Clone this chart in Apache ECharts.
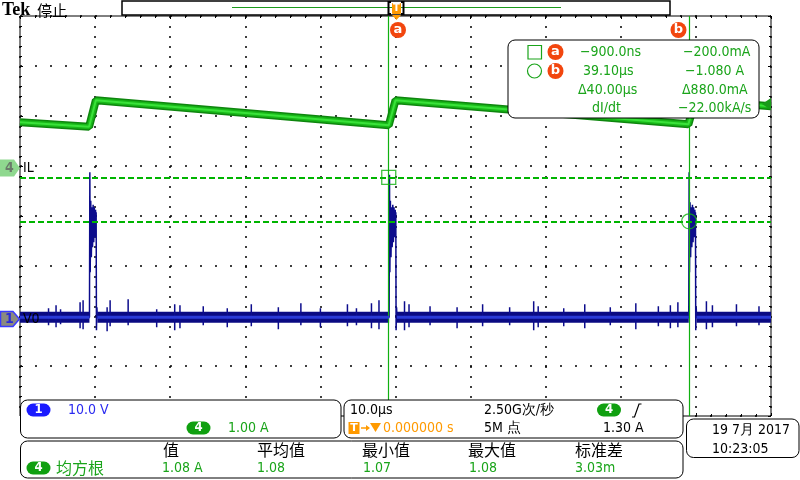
<!DOCTYPE html>
<html><head><meta charset="utf-8">
<script src="https://cdn.jsdelivr.net/npm/echarts@6/dist/echarts.min.js"></script>
<style>html,body{margin:0;padding:0;background:#fff}#c{width:800px;height:480px}</style>
</head><body><div id="c"></div>
<script>
// ---- axes (10 µs/div horizontally, 8 vertical divisions) ----
const timeMin = -50, timeMax = 50, timeStep = 10;            // µs
const divMin = -4, divMax = 4;                                // graticule divisions
const ilMin = -4.974, ilMax = 3.026;                          // A  (1.00 A/div)
const v0Min = -19.74, v0Max = 60.26;                          // V  (10.0 V/div)

// ---- channel 4 : IL (A) ----
const ilTime = [-50, -40.8, -39.9, -0.9, 0.0, 39.0, 39.9, 50];
const ilAmps = [0.90, 0.81, 1.34, 0.84, 1.34, 0.86, 1.34, 1.22];

// ---- channel 1 : V0 (V) ----
const v0BaseSegments = [[-50, -40.75], [-39.7, -0.85], [0.2, 39.05], [40.1, 50]];
const v0Spike1 = [[-40.75,0],[-40.7,29],[-40.65,9],[-40.58,23.3],[-40.5,12],[-40.42,22],[-40.34,14],[-40.26,22.5],[-40.18,15],[-40.1,22],[-40.02,16],[-39.94,21.5],[-39.9,18],[-39.86,21],[-39.82,-2.6],[-39.76,2],[-39.7,0]];
const v0Spike2 = [[-0.85,0],[-0.8,28.5],[-0.75,9],[-0.68,23.3],[-0.6,12],[-0.52,22],[-0.44,14],[-0.36,22.5],[-0.28,15],[-0.2,22],[-0.12,16],[-0.04,21.5],[0.0,18],[0.04,21],[0.08,-2.6],[0.14,2],[0.2,0]];
const v0Spike3 = [[39.05,0],[39.1,29],[39.15,9],[39.22,23],[39.3,12],[39.38,22],[39.46,14],[39.54,22.5],[39.62,15],[39.7,22],[39.78,16],[39.86,21.5],[39.9,18],[39.94,21],[39.98,-2.6],[40.04,2],[40.1,0]];
// ringing bursts on the baseline  [t, Vmax, Vmin]
const v0Bursts = [[-46.2,1.8,-1.6],[-45.2,2.4,-2.0],[-44.6,1.6,-1.4],[-42.0,3.0,-2.2],[-41.6,3.4,-2.4],[-38.4,2.0,-2.8],[-38.0,3.4,-1.8],[-35.6,3.6,-1.6],[-31.8,1.6,-2.0],[-29.4,2.6,-2.6],[-28.7,2.4,-2.2],[-25.6,2.2,-1.6],[-22.4,1.8,-2.0],[-19.2,2.6,-1.8],[-15.6,2.0,-2.4],[-12.6,2.8,-1.6],[-10.0,1.8,-2.0],[-6.4,2.6,-1.8],[-5.2,1.8,-1.6],[-3.2,2.8,-2.2],[-2.2,3.4,-2.4],[1.2,3.2,-2.6],[1.8,2.6,-2.0],[4.6,2.2,-1.6],[8.2,2.0,-2.2],[11.6,2.6,-1.8],[15.2,2.0,-1.6],[18.4,3.2,-2.6],[19.0,2.2,-2.0],[22.4,1.8,-1.8],[25.2,2.6,-2.2],[28.6,2.0,-1.6],[32.0,2.8,-2.4],[35.0,2.2,-1.8],[36.6,2.4,-2.2],[37.6,3.0,-2.0],[41.4,3.2,-2.4],[42.2,2.4,-2.0],[45.4,2.6,-1.8],[48.4,2.2,-1.6]];

// ---- cursors ----
const cursorTimes = [-0.9, 39.1];     // µs
const cursorLevels = [-0.2, -1.08];   // A

// ---- build series data ----
const ilData = ilTime.map((t, i) => [t, ilAmps[i]]);
const bandData = [];
v0BaseSegments.forEach(s => { bandData.push([s[0], 0], [s[1], 0], [s[1], '-']); });
const spikes = [v0Spike1, v0Spike2, v0Spike3];
const thinData = [[timeMin, 0]];
const events = [];
v0Bursts.forEach(b => events.push({t: b[0], pts: [[b[0],0],[b[0],b[1]],[b[0],b[2]],[b[0],0]]}));
spikes.forEach(s => events.push({t: s[0][0], pts: s}));
events.sort((a, b) => a.t - b.t).forEach(e => e.pts.forEach(p => thinData.push(p)));
thinData.push([timeMax, 0]);

const GREEN_T = '#1aa41a', BLUE_T = '#2a2af0', ORANGE = '#ff9a00', RED_O = '#f2460e';
const FONT = '"DejaVu Sans Condensed","Liberation Sans Narrow","DejaVu Sans",sans-serif';
const CJK = '"Noto Sans CJK SC",sans-serif';

function txt(x, y, text, color, size, family, extra) {
  return {type: 'text', x: x, y: y, z: 110,
    style: {text: text, fill: color, font: (extra && extra.weight ? extra.weight + ' ' : '') + size + 'px ' + family,
      textAlign: (extra && extra.align) || 'left', textVerticalAlign: 'middle'}};
}
function box(x, y, w, h, r, z) {
  return {type: 'rect', z: z || 100, shape: {x: x, y: y, width: w, height: h, r: r},
    style: {fill: '#fff', stroke: '#000', lineWidth: 1}};
}
function pill(cx, cy, w, h, color, label) {
  return [{type: 'rect', z: 110, shape: {x: cx - w / 2, y: cy - h / 2, width: w, height: h, r: h / 2}, style: {fill: color}},
    {type: 'text', z: 111, x: cx, y: cy, style: {text: label, fill: '#fff', font: 'bold 13px ' + FONT, textAlign: 'center', textVerticalAlign: 'middle'}}];
}
function badge(cx, cy, label) {
  return [{type: 'circle', z: 120, shape: {cx: cx, cy: cy, r: 8}, style: {fill: RED_O}},
    {type: 'text', z: 121, x: cx, y: cy, style: {text: label, fill: '#fff', font: 'bold 13px "DejaVu Sans",sans-serif', textAlign: 'center', textVerticalAlign: 'middle'}}];
}

const graphics = [].concat(
  [txt(2, 10, 'Tek', '#000', 18, '"Liberation Serif",serif', {weight: 'bold'}),
   txt(37, 10, '停止', '#000', 15, CJK),
   {type: 'rect', z: 100, shape: {x: 122, y: 1, width: 548, height: 14}, style: {fill: '#fff', stroke: '#000', lineWidth: 1.5}},
   {type: 'line', z: 101, shape: {x1: 232, y1: 7.5, x2: 561, y2: 7.5}, style: {stroke: '#1a9a1a', lineWidth: 1}},
   {type: 'polyline', z: 102, shape: {points: [[391, 2], [388.5, 2], [388.5, 14], [391, 14]]}, style: {stroke: '#000', lineWidth: 2, fill: null}},
   {type: 'polyline', z: 102, shape: {points: [[401, 2], [403.5, 2], [403.5, 14], [401, 14]]}, style: {stroke: '#000', lineWidth: 2, fill: null}},
   {type: 'rect', z: 103, shape: {x: 392, y: 3, width: 9, height: 11, r: 1}, style: {fill: ORANGE}},
   {type: 'text', z: 104, x: 396.5, y: 8.5, style: {text: 'T', fill: '#fff', font: 'bold 10px "DejaVu Sans",sans-serif', textAlign: 'center', textVerticalAlign: 'middle'}},
   {type: 'polygon', z: 103, shape: {points: [[392, 15], [401, 15], [396.5, 20]]}, style: {fill: ORANGE}}],
  badge(398, 30, 'a'), badge(678.5, 30, 'b'),
  [{type: 'polygon', z: 105, shape: {points: [[0, 159.5], [14, 159.5], [20, 168], [14, 176.5], [0, 176.5]]}, style: {fill: '#8fd88f'}},
   txt(5, 168, '4', '#6a7a6a', 14, FONT, {weight: 'bold'}),
   txt(23, 168, 'IL', '#000', 14, FONT),
   {type: 'polygon', z: 105, shape: {points: [[0.5, 311.5], [13, 311.5], [19.5, 319], [13, 326.5], [0.5, 326.5]]}, style: {fill: '#8a8a80', stroke: '#3a3aff', lineWidth: 1.5}},
   txt(5, 319, '1', '#2a2ad8', 14, FONT, {weight: 'bold'}),
   txt(23, 319, 'V0', '#000', 14, FONT),
   {type: 'polygon', z: 105, shape: {points: [[762, 104], [771, 98], [771, 110]]}, style: {fill: '#1a9a1a'}}],
  [box(508, 40, 251, 78, 7),
   {type: 'rect', z: 110, shape: {x: 528, y: 45.5, width: 13.5, height: 13.5}, style: {fill: null, stroke: GREEN_T, lineWidth: 1.2}},
   {type: 'circle', z: 110, shape: {cx: 534.5, cy: 71, r: 7}, style: {fill: null, stroke: GREEN_T, lineWidth: 1.2}}],
  badge(555.5, 52, 'a'), badge(555.5, 71, 'b'),
  [txt(580, 52, '−900.0ns', GREEN_T, 14, FONT), txt(683, 52, '−200.0mA', GREEN_T, 14, FONT),
   txt(583, 71, '39.10µs', GREEN_T, 14, FONT), txt(685, 71, '−1.080 A', GREEN_T, 14, FONT),
   txt(578, 90, 'Δ40.00µs', GREEN_T, 14, FONT), txt(682, 90, 'Δ880.0mA', GREEN_T, 14, FONT),
   txt(592, 108, 'dI/dt', GREEN_T, 14, FONT), txt(678, 108, '−22.00kA/s', GREEN_T, 14, FONT)],
  [box(20.5, 400, 320.5, 38, 7), box(344, 400, 339, 38, 7), box(20.5, 441, 662.5, 37, 7), box(686.5, 419, 112.5, 38.5, 7)],
  pill(38.5, 410, 24, 13, '#1a1aff', '1'),
  [txt(68, 410, '10.0 V', BLUE_T, 14, FONT)],
  pill(198.5, 428, 24, 13, '#10a010', '4'),
  [txt(228, 428, '1.00 A', GREEN_T, 14, FONT),
   txt(350, 410, '10.0µs', '#000', 14, FONT),
   txt(484, 410, '2.50G次/秒', '#000', 14, FONT),
   {type: 'polyline', z: 110, shape: {points: [[632, 417], [634.5, 417], [639, 404], [641.5, 404]]}, style: {stroke: '#000', lineWidth: 1.2, fill: null}},
   {type: 'rect', z: 110, shape: {x: 348.5, y: 422, width: 11, height: 12}, style: {fill: ORANGE}},
   {type: 'text', z: 111, x: 354, y: 428, style: {text: 'T', fill: '#fff', font: 'bold 11px "DejaVu Sans",sans-serif', textAlign: 'center', textVerticalAlign: 'middle'}},
   {type: 'line', z: 110, shape: {x1: 361, y1: 428, x2: 368, y2: 428}, style: {stroke: ORANGE, lineWidth: 1.5}},
   {type: 'polygon', z: 110, shape: {points: [[366, 425], [370, 428], [366, 431]]}, style: {fill: ORANGE}},
   {type: 'polygon', z: 110, shape: {points: [[370, 423], [381, 423], [375.5, 432]]}, style: {fill: ORANGE}},
   txt(383, 428, '0.000000 s', ORANGE, 14, FONT),
   txt(484, 428, '5M 点', '#000', 14, FONT),
   txt(603, 428, '1.30 A', '#000', 14, FONT)],
  pill(609, 410, 24, 13, '#10a010', '4'),
  [txt(163, 450, '值', '#000', 16, CJK), txt(257, 450, '平均值', '#000', 16, CJK), txt(362, 450, '最小值', '#000', 16, CJK),
   txt(468, 450, '最大值', '#000', 16, CJK), txt(575, 450, '标准差', '#000', 16, CJK)],
  pill(38.5, 468, 24, 13, '#10a010', '4'),
  [txt(56, 468, '均方根', GREEN_T, 16, CJK),
   txt(162, 468, '1.08 A', GREEN_T, 14, FONT), txt(257, 468, '1.08', GREEN_T, 14, FONT), txt(363, 468, '1.07', GREEN_T, 14, FONT),
   txt(469, 468, '1.08', GREEN_T, 14, FONT), txt(575, 468, '3.03m', GREEN_T, 14, FONT),
   txt(712, 430, '19 7月 2017', '#000', 14, FONT), txt(712, 449, '10:23:05', '#000', 14, FONT)]
);

const chart = echarts.init(document.getElementById('c'), null, {renderer: 'canvas'});
const xCommon = {type: 'value', min: timeMin, max: timeMax, interval: timeStep,
  axisLabel: {show: false}, axisLine: {show: false, onZero: false},
  axisTick: {show: true, inside: true, length: 3, lineStyle: {color: '#000'}},
  minorTick: {show: true, splitNumber: 5, length: 2, lineStyle: {color: '#000'}}};
const yCommon = {type: 'value', min: divMin, max: divMax, interval: 1,
  axisLabel: {show: false}, axisLine: {show: false, onZero: false},
  axisTick: {show: true, inside: true, length: 3, lineStyle: {color: '#000'}},
  minorTick: {show: true, splitNumber: 5, length: 2, lineStyle: {color: '#000'}}};
const CURSOR_GREEN = '#10b010';

chart.setOption({
  animation: false,
  backgroundColor: '#fff',
  grid: {left: 20, top: 16, width: 751, height: 400, show: true, borderColor: '#000', borderWidth: 1, backgroundColor: '#fff'},
  xAxis: [
    Object.assign({}, xCommon, {position: 'bottom', splitLine: {show: true, lineStyle: {color: '#000', width: 1.5, type: [2, 8]}}}),
    Object.assign({}, xCommon, {position: 'top', splitLine: {show: false}})
  ],
  yAxis: [
    Object.assign({}, yCommon, {position: 'left', splitLine: {show: true, lineStyle: {color: '#000', width: 1.5, type: [2, 13]}}}),
    Object.assign({}, yCommon, {position: 'right', splitLine: {show: false}}),
    {type: 'value', min: ilMin, max: ilMax, show: false},
    {type: 'value', min: v0Min, max: v0Max, show: false}
  ],
  series: [
    {type: 'line', name: 'V0 band', xAxisIndex: 0, yAxisIndex: 3, data: bandData, symbol: 'none', connectNulls: false,
      lineStyle: {color: '#0a0a82', width: 11, cap: 'butt'}, z: 3},
    {type: 'line', name: 'V0', xAxisIndex: 0, yAxisIndex: 3, data: thinData, symbol: 'none',
      lineStyle: {color: '#0c0c8c', width: 1.5}, z: 4},
    {type: 'line', name: 'V0 core', xAxisIndex: 0, yAxisIndex: 3, data: bandData, symbol: 'none', connectNulls: false,
      lineStyle: {color: '#2a3ad6', width: 3, cap: 'butt'}, z: 5},
    {type: 'line', name: 'IL band', xAxisIndex: 0, yAxisIndex: 2, data: ilData, symbol: 'none',
      lineStyle: {color: '#0e860e', width: 8}, z: 6},
    {type: 'line', name: 'IL mid', xAxisIndex: 0, yAxisIndex: 2, data: ilData, symbol: 'none',
      lineStyle: {color: '#18b818', width: 5}, z: 7},
    {type: 'line', name: 'IL', xAxisIndex: 0, yAxisIndex: 2, data: ilData, symbol: 'none',
      lineStyle: {color: '#3ae23a', width: 2}, z: 8,
      markLine: {symbol: 'none', silent: true, label: {show: false}, animation: false,
        lineStyle: {color: CURSOR_GREEN, width: 1.2, type: 'solid', opacity: 1},
        data: [
          {xAxis: cursorTimes[0]},
          {xAxis: cursorTimes[1]}
        ]}},
    {type: 'line', name: 'cursor levels', xAxisIndex: 0, yAxisIndex: 2, data: [], symbol: 'none', z: 8,
      markLine: {symbol: 'none', silent: true, label: {show: false}, animation: false,
        lineStyle: {color: '#00b400', width: 2, type: [6, 3], opacity: 1},
        data: [{yAxis: cursorLevels[0]}, {yAxis: cursorLevels[1]}]}},
    {type: 'scatter', xAxisIndex: 0, yAxisIndex: 2, data: [[cursorTimes[0], cursorLevels[0]]], symbol: 'rect', symbolSize: 14,
      itemStyle: {color: 'rgba(0,0,0,0)', borderColor: CURSOR_GREEN, borderWidth: 1.3}, z: 9},
    {type: 'scatter', xAxisIndex: 0, yAxisIndex: 2, data: [[cursorTimes[1], cursorLevels[1]]], symbol: 'circle', symbolSize: 15,
      itemStyle: {color: 'rgba(0,0,0,0)', borderColor: CURSOR_GREEN, borderWidth: 1.3}, z: 9}
  ],
  graphic: {elements: graphics}
});
</script></body></html>
